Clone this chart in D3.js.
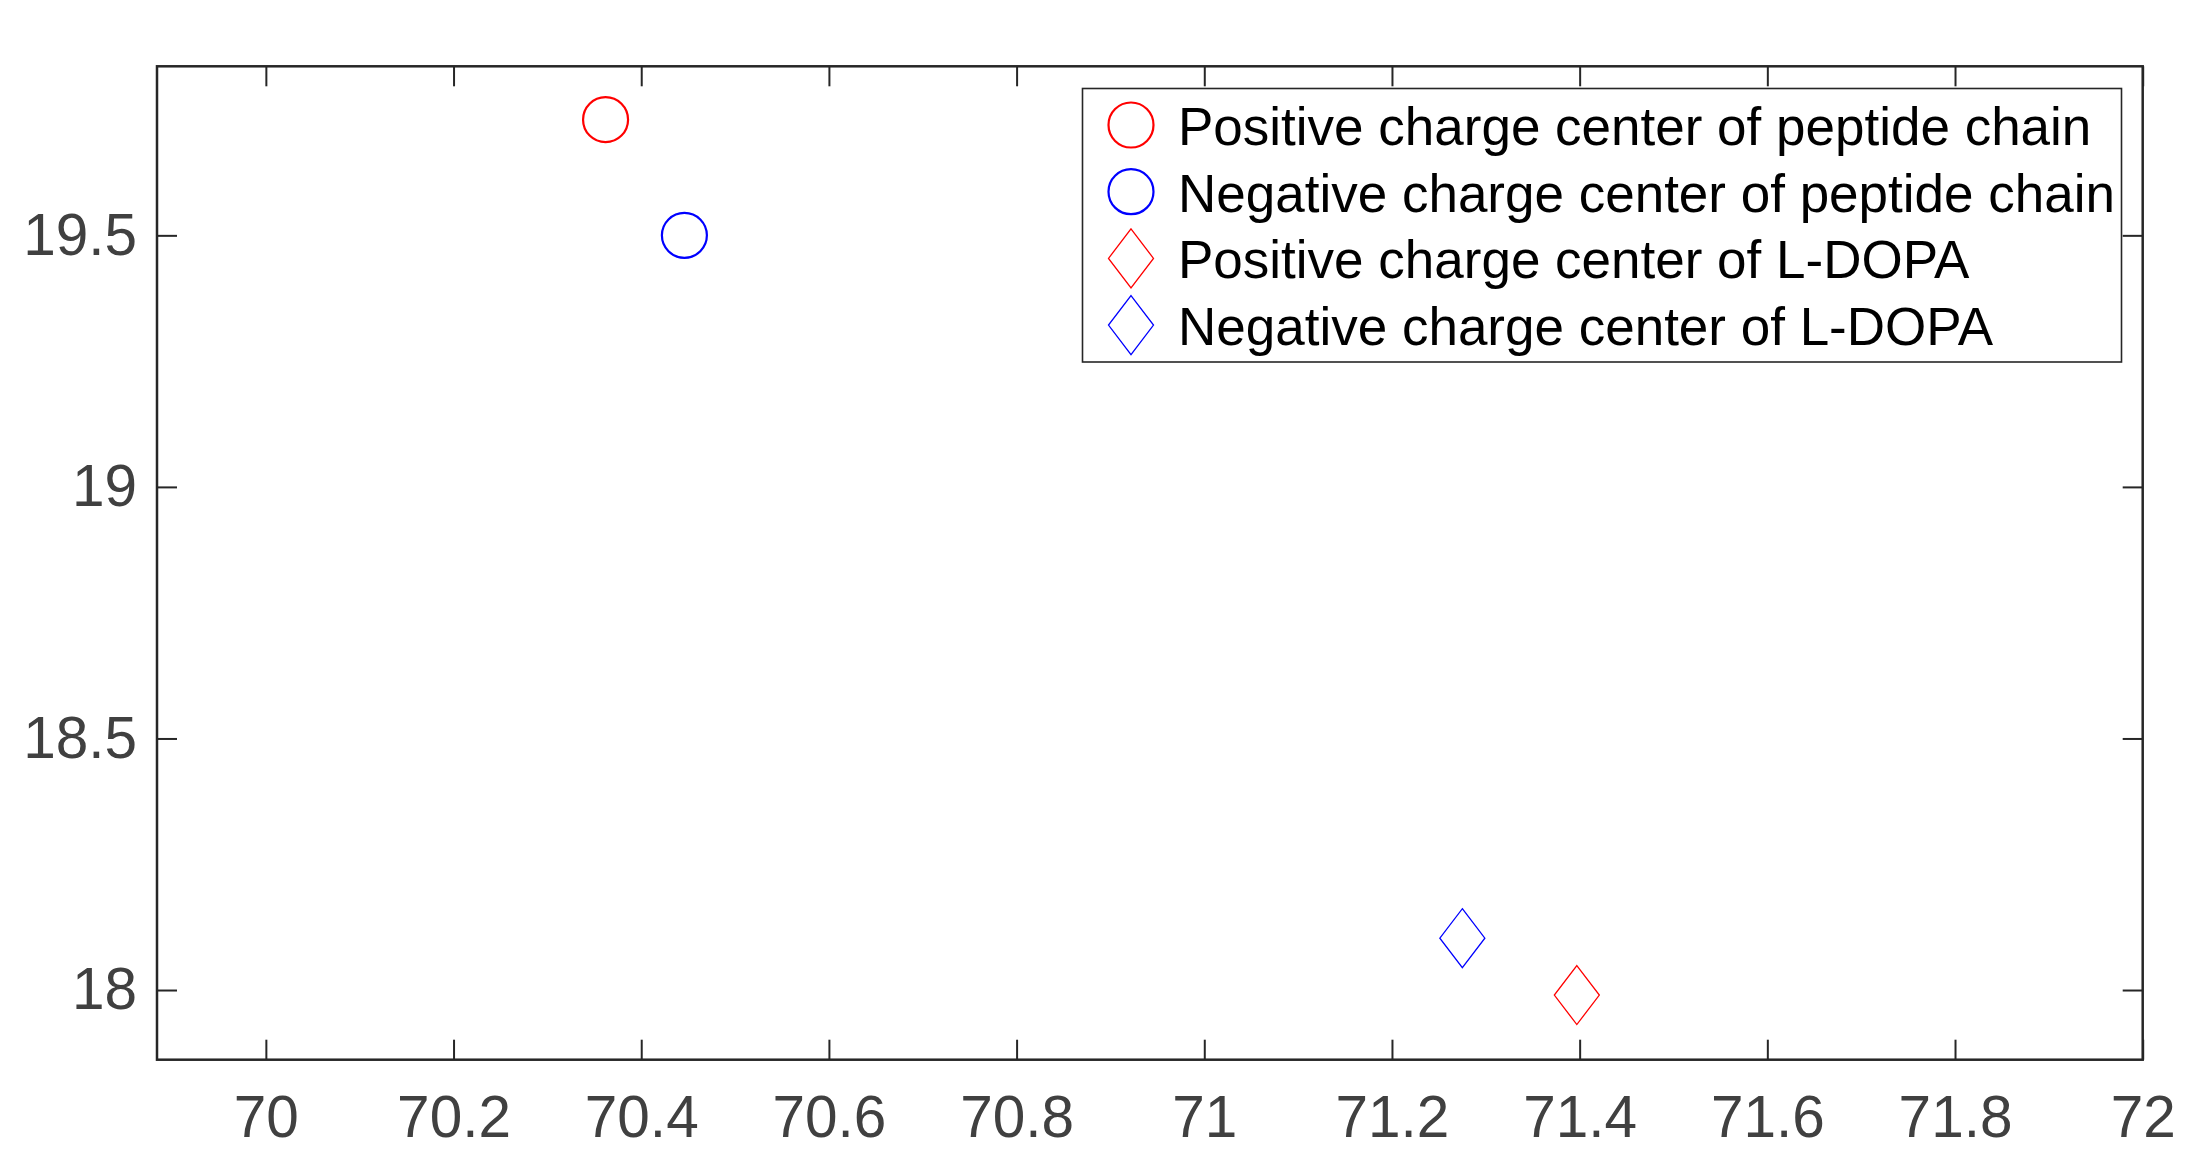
<!DOCTYPE html>
<html>
  <body style="margin:0; background:#fff;">
    <style>
      svg { display: block; }
      .tick text { font-family: "Liberation Sans", Arial, sans-serif; }
    </style>
    <script src="https://d3js.org/d3.v7.min.js"></script>
    <script type="text/javascript">
      const width = 2207;
      const height = 1175;

      // data
      const seriesNames = [
        'Positive charge center of peptide chain',
        'Negative charge center of peptide chain',
        'Positive charge center of L-DOPA',
        'Negative charge center of L-DOPA',
      ];
      const seriesX = [70.362, 70.446, 71.397, 71.275];
      const seriesY = [19.730, 19.500, 17.990, 18.103];
      const xTicks = [70, 70.2, 70.4, 70.6, 70.8, 71, 71.2, 71.4, 71.6, 71.8, 72];
      const xTickLabels = ['70', '70.2', '70.4', '70.6', '70.8', '71', '71.2', '71.4', '71.6', '71.8', '72'];
      const yTicks = [18, 18.5, 19, 19.5];
      const yTickLabels = ['18', '18.5', '19', '19.5'];

      // styles
      const markerColor = ['#ff0000', '#0000ff', '#ff0000', '#0000ff'];
      const markerShape = ['circle', 'circle', 'diamond', 'diamond'];
      const axisColor = '#262626';

      const xScale = d3.scaleLinear()
        .domain([69.884, 72])
        .range([157, 2142.7]);

      const yScale = d3.scaleLinear()
        .domain([17.8615, 19.836])
        .range([1059.7, 66.3]);

      const svg = d3.select('body')
        .append('svg')
        .attr('width', width)
        .attr('height', height)

      const x0 = xScale.range()[0], x1 = xScale.range()[1];
      const y0 = yScale.range()[1], y1 = yScale.range()[0];

      function styleAxis(g, showLabels) {
        g.select('.domain').remove();
        g.selectAll('.tick line')
          .attr('stroke', axisColor)
          .attr('stroke-width', 2);
        if (showLabels) {
          g.selectAll('.tick text')
            .attr('fill', '#404040')
            .attr('font-size', 58.5);
        } else {
          g.selectAll('.tick text').remove();
        }
      }

      svg.append('g')
        .attr('transform', `translate(0,${y1})`)
        .call(d3.axisBottom(xScale).tickValues(xTicks)
          .tickFormat((d, i) => xTickLabels[i]).tickSize(-20).tickPadding(35.5))
        .call((g) => styleAxis(g, true));

      svg.append('g')
        .attr('transform', `translate(0,${y0})`)
        .call(d3.axisTop(xScale).tickValues(xTicks).tickSize(-20))
        .call((g) => styleAxis(g, false));

      svg.append('g')
        .attr('transform', `translate(${x0},0)`)
        .call(d3.axisLeft(yScale).tickValues(yTicks)
          .tickFormat((d, i) => yTickLabels[i]).tickSize(-20).tickPadding(20))
        .call((g) => styleAxis(g, true));

      svg.append('g')
        .attr('transform', `translate(${x1},0)`)
        .call(d3.axisRight(yScale).tickValues(yTicks).tickSize(-20))
        .call((g) => styleAxis(g, false));

      // axes box
      svg.append('rect')
        .attr('x', x0)
        .attr('y', y0)
        .attr('width', x1 - x0)
        .attr('height', y1 - y0)
        .attr('fill', 'none')
        .attr('stroke', axisColor)
        .attr('stroke-width', 2.5)

      function diamond(cx, cy) {
        const w = 22.5, h = 29.5;
        return `M${cx},${cy - h}L${cx + w},${cy}L${cx},${cy + h}L${cx - w},${cy}Z`;
      }

      function drawMarker(g, shape, cx, cy, color) {
        if (shape === 'circle') {
          g.append('circle')
            .attr('cx', cx)
            .attr('cy', cy)
            .attr('r', 22.5)
            .attr('fill', 'none')
            .attr('stroke', color)
            .attr('stroke-width', 2.2)
        } else {
          g.append('path')
            .attr('d', diamond(cx, cy))
            .attr('fill', 'none')
            .attr('stroke', color)
            .attr('stroke-width', 1.3)
        }
      }

      const points = svg.append('g');
      seriesX.forEach((xv, i) => {
        drawMarker(points, markerShape[i], xScale(xv), yScale(seriesY[i]), markerColor[i]);
      });

      // legend
      const legend = svg.append('g');
      legend.append('rect')
        .attr('x', 1082.5)
        .attr('y', 88.5)
        .attr('width', 1039)
        .attr('height', 273.5)
        .attr('fill', '#fff')
        .attr('stroke', axisColor)
        .attr('stroke-width', 1.6)

      seriesNames.forEach((name, i) => {
        const cy = 125 + i * 66.7;
        drawMarker(legend, markerShape[i], 1131, cy, markerColor[i]);
        legend.append('text')
          .attr('x', 1178)
          .attr('y', cy + 20)
          .attr('font-family', '"Liberation Sans", Arial, sans-serif')
          .attr('font-size', 53)
          .attr('fill', '#000')
          .text(name)
      });

    </script>
  </body>
</html>
